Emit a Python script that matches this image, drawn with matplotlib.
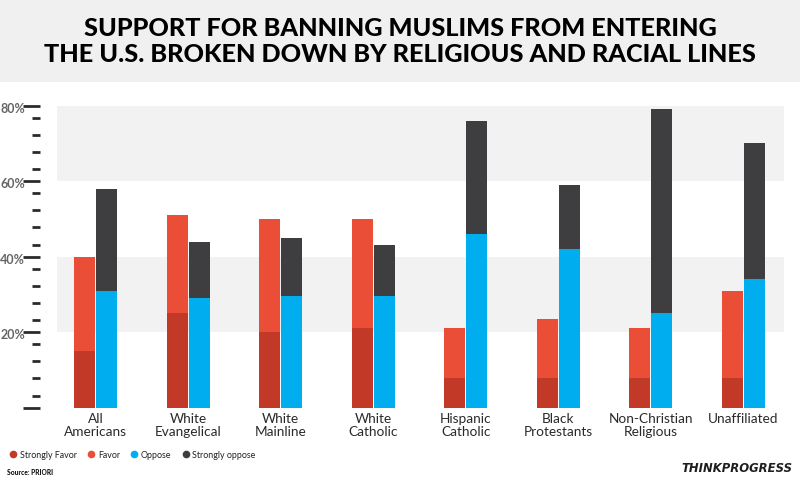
import matplotlib
matplotlib.use("Agg")
import matplotlib.pyplot as plt
import matplotlib.transforms as mtransforms
import numpy as np
from matplotlib.patches import Rectangle
from matplotlib.lines import Line2D

categories = ["All\nAmericans", "White\nEvangelical", "White\nMainline", "White\nCatholic",
              "Hispanic\nCatholic", "Black\nProtestants", "Non-Christian\nReligious", "Unaffiliated"]
strongly_favor = [15, 25, 20, 21, 8, 8, 8, 8]
favor = [25, 26, 30, 29, 13, 15.5, 13, 23]
oppose = [31, 29, 29.5, 29.5, 46, 42, 25, 34]
strongly_oppose = [27, 15, 15.5, 13.5, 30, 17, 54, 36]
major_ticks = [0, 20, 40, 60, 80]
major_labels = ["", "20%", "40%", "60%", "80%"]
series_names = ["Strongly Favor", "Favor", "Oppose", "Strongly oppose"]

c_sf = "#c23a27"
c_f = "#eb4e37"
c_o = "#00adee"
c_so = "#3e3e40"
colors = [c_sf, c_f, c_o, c_so]

fig = plt.figure(figsize=(8, 4.82), dpi=100)
fig.patches.append(Rectangle((0, 0.83), 1, 0.17, transform=fig.transFigure,
                             facecolor="#f0f0f0", edgecolor="none", zorder=0))
fig.text(0.5, 0.914, "SUPPORT FOR BANNING MUSLIMS FROM ENTERING\nTHE U.S. BROKEN DOWN BY RELIGIOUS AND RACIAL LINES",
         ha="center", va="center", fontsize=18.2, fontweight="black", family="Lato",
         color="#000000", linespacing=1.12)

ax = fig.add_axes([57/800, 0.1541, (784-57)/800, 0.6266])
x = np.arange(len(categories))
w = 0.228
off = 0.118
sf = np.array(strongly_favor); f = np.array(favor)
o = np.array(oppose); so = np.array(strongly_oppose)
ax.bar(x - off, sf, w, color=c_sf, zorder=3)
ax.bar(x - off, f, w, bottom=sf, color=c_f, zorder=3)
ax.bar(x + off, o, w, color=c_o, zorder=3)
ax.bar(x + off, so, w, bottom=o, color=c_so, zorder=3)

for lo, hi in zip(major_ticks[1::2], major_ticks[2::2]):
    ax.axhspan(lo, hi, color="#f2f2f2", zorder=0, lw=0)

ax.set_xlim(-0.42, len(categories) - 1 + 0.44)
ax.set_ylim(0, 80)
for s in ax.spines.values():
    s.set_visible(False)
ax.spines["left"].set_position(("outward", 12.5))

ax.set_yticks(major_ticks)
ax.set_yticklabels([])
minor = []
for lo in major_ticks[:-1]:
    minor += [lo + d for d in (3.2, 7.75, 12.3, 16.85)]
ax.set_yticks(minor, minor=True)
ax.tick_params(axis="y", which="major", length=12, width=2, color="#2b2b2b")
ax.tick_params(axis="y", which="minor", length=6, width=2, color="#2b2b2b")

blend = mtransforms.blended_transform_factory(ax.transAxes, ax.transData)
lab_tr = mtransforms.offset_copy(blend, fig=fig, x=-32, y=-3, units="dots")
for v, lab in zip(major_ticks, major_labels):
    ax.text(0, v, lab, transform=lab_tr, ha="right", va="center", fontsize=9,
            fontweight="bold", family="Lato", color="#666666", clip_on=False)

ax.set_xticks(x)
ax.set_xticklabels(categories, family="Lato", fontweight="normal", fontsize=9.8,
                   color="#2a2a2a", linespacing=1.1)
ax.tick_params(axis="x", length=0, pad=4)

handles = [Line2D([], [], marker="o", linestyle="none", markersize=5.5,
                  markerfacecolor=c, markeredgecolor="none") for c in colors]
leg = fig.legend(handles, series_names, loc="center left", bbox_to_anchor=(0.0, 0.056),
                 ncol=4, frameon=False, handletextpad=0.15, columnspacing=1.0,
                 handlelength=1.2, prop={"family": "Lato", "size": 6.4})
for t in leg.get_texts():
    t.set_color("#222222")

fig.text(0.009, 0.02, "Source: PRIORI", fontsize=4.8, fontweight="black",
         family="Lato", color="#111111", ha="left", va="center")
fig.text(0.991, 0.029, "THINKPROGRESS", fontsize=8.4, fontweight="black",
         style="italic", family="DejaVu Sans", color="#1e1e1e", ha="right", va="center")

fig.savefig("out.png", dpi=100)
